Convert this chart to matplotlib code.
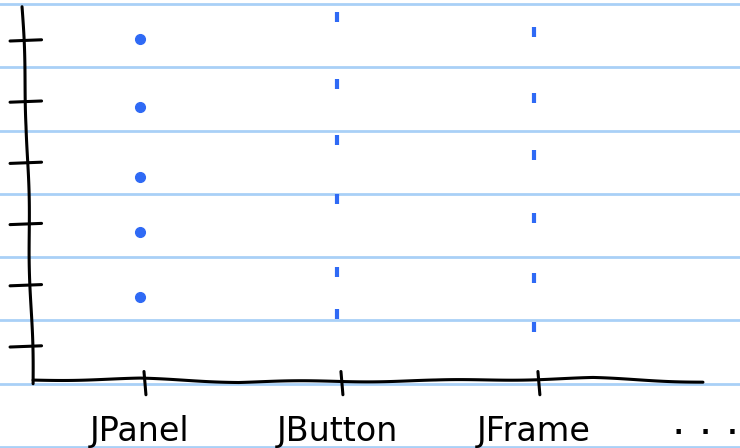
import numpy as np
import matplotlib
matplotlib.use("Agg")
import matplotlib.pyplot as plt

categories = ["JPanel", "JButton", "JFrame"]
more_label = ".  .  ."
panel_vals = [6.03, 4.92, 3.78, 2.88, 1.82]
button_vals = [6.39, 5.30, 4.38, 3.42, 2.23, 1.54]
frame_vals = [6.15, 5.07, 4.14, 3.11, 2.13, 1.33]
y_ticks = [1, 2, 3, 4, 5, 6]

blue = "#2f6af5"
paper = "#a9d0f7"

fig = plt.figure(figsize=(7.4, 4.48), dpi=100)

# ruled paper background
bg = fig.add_axes([0, 0, 1, 1])
bg.set_xlim(0, 740)
bg.set_ylim(448, 0)
bg.axis("off")
for yy in np.arange(4, 450, 63.3):
    bg.axhline(yy, color=paper, lw=2)

ax = fig.add_axes([0, 0, 1, 1], facecolor="none")
ax.set_xlim(-0.711, 3.046)
ax.set_ylim(-0.65, 6.67)
ax.axis("off")

ink = dict(color="black", lw=2.2, solid_capstyle="round")

# hand drawn axes
l1, = ax.plot([-0.543, -0.56, -0.575, -0.599], [0.40, 2.5, 4.6, 6.56], **ink)
l2, = ax.plot([-0.543, 0.0, 0.5, 1.5, 2.3, 2.858], [0.46, 0.48, 0.43, 0.45, 0.49, 0.43], **ink)
for ln in (l1, l2):
    ln.set_sketch_params(scale=0.8, length=150, randomness=1)

for y in y_ticks:
    ax.plot([-0.66, -0.50], [y, y + 0.02], **ink)
for i in range(len(categories)):
    ax.plot([i + 0.02, i + 0.03], [0.60, 0.22], **ink)
    ax.text(i, -0.38, categories[i], ha="center", va="center",
            fontsize=24, family="DejaVu Sans")
ax.text(2.87, -0.30, more_label, ha="center", va="center",
        fontsize=18, fontweight="bold", family="DejaVu Sans")

# data
ax.plot([0] * len(panel_vals), panel_vals, "o", color=blue, ms=7)
ax.plot([1] * len(button_vals), button_vals, "|", color=blue, ms=7, mew=3)
ax.plot([2] * len(frame_vals), frame_vals, "|", color=blue, ms=7, mew=3)

fig.savefig("out.png", dpi=100)
